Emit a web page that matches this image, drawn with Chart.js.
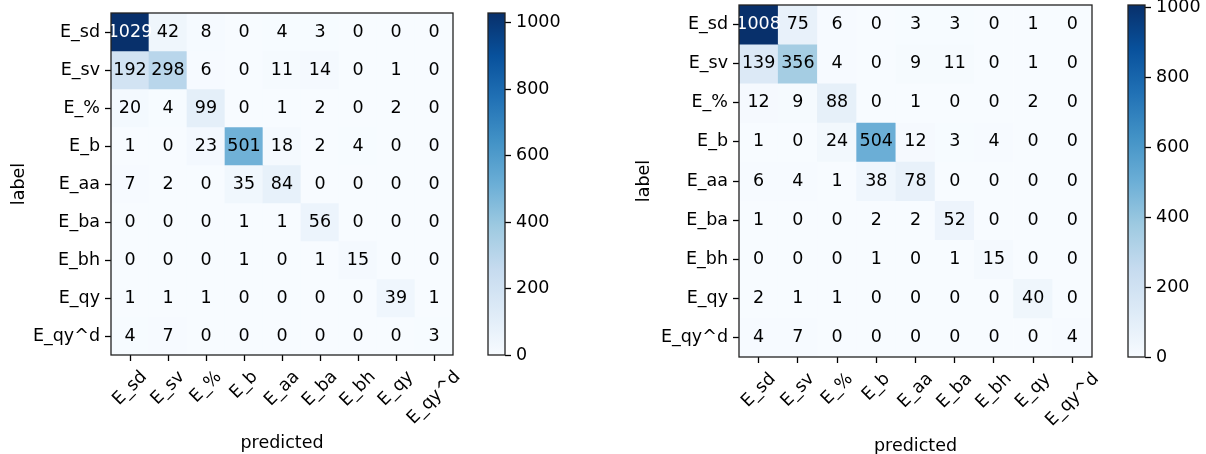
<!DOCTYPE html>
<html>
<head>
<meta charset="utf-8">
<script src="https://cdn.jsdelivr.net/npm/chart.js@4.4.1/dist/chart.umd.min.js"></script>
<style>
  html, body { margin: 0; padding: 0; background: #ffffff; overflow: hidden; width: 1206px; height: 454px; }
  canvas { position: absolute; top: 0; }
</style>
</head>
<body>
<canvas id="hmLeft" width="480" height="454" style="left:0px"></canvas>
<canvas id="cbLeft" width="80" height="454" style="left:480px"></canvas>
<canvas id="hmRight" width="490" height="460" style="left:620px"></canvas>
<canvas id="cbRight" width="96" height="454" style="left:1110px"></canvas>
<script>
// ---------- data ----------
const classLabels = ['E_sd', 'E_sv', 'E_%', 'E_b', 'E_aa', 'E_ba', 'E_bh', 'E_qy', 'E_qy^d'];

const leftCounts = [
  [1029, 42, 8, 0, 4, 3, 0, 0, 0],
  [192, 298, 6, 0, 11, 14, 0, 1, 0],
  [20, 4, 99, 0, 1, 2, 0, 2, 0],
  [1, 0, 23, 501, 18, 2, 4, 0, 0],
  [7, 2, 0, 35, 84, 0, 0, 0, 0],
  [0, 0, 0, 1, 1, 56, 0, 0, 0],
  [0, 0, 0, 1, 0, 1, 15, 0, 0],
  [1, 1, 1, 0, 0, 0, 0, 39, 1],
  [4, 7, 0, 0, 0, 0, 0, 0, 3]
];

const rightCounts = [
  [1008, 75, 6, 0, 3, 3, 0, 1, 0],
  [139, 356, 4, 0, 9, 11, 0, 1, 0],
  [12, 9, 88, 0, 1, 0, 0, 2, 0],
  [1, 0, 24, 504, 12, 3, 4, 0, 0],
  [6, 4, 1, 38, 78, 0, 0, 0, 0],
  [1, 0, 0, 2, 2, 52, 0, 0, 0],
  [0, 0, 0, 1, 0, 1, 15, 0, 0],
  [2, 1, 1, 0, 0, 0, 0, 40, 0],
  [4, 7, 0, 0, 0, 0, 0, 0, 4]
];

const colorbarTicks = [0, 200, 400, 600, 800, 1000];
const xAxisTitle = 'predicted';
const yAxisTitle = 'label';

// ---------- style ----------
const FS = 17.5;
const FONT = { family: 'DejaVu Sans', size: FS, lineHeight: 1.2 };
const TEXT = '#000000';
const FRAME = '#222222';
const TICK_LEN = 6;
const TICK_W = 1.3;

Chart.defaults.font.family = 'DejaVu Sans';
Chart.defaults.font.size = FS;
Chart.defaults.color = TEXT;

const BLUES = ['#f7fbff', '#deebf7', '#c6dbef', '#9ecae1', '#6baed6', '#4292c6', '#2171b5', '#08519c', '#08306b'];
function hexToRgb(h) { return [parseInt(h.slice(1, 3), 16), parseInt(h.slice(3, 5), 16), parseInt(h.slice(5, 7), 16)]; }
const BLUES_RGB = BLUES.map(hexToRgb);
function blues(t) {
  t = Math.max(0, Math.min(1, t));
  const p = t * (BLUES_RGB.length - 1);
  const i = Math.min(Math.floor(p), BLUES_RGB.length - 2);
  const f = p - i;
  const a = BLUES_RGB[i], b = BLUES_RGB[i + 1];
  const c = a.map((v, k) => Math.round(v + (b[k] - v) * f));
  return `rgb(${c[0]},${c[1]},${c[2]})`;
}

const framePlugin = {
  id: 'frame',
  afterDraw(chart) {
    const { ctx, chartArea: a } = chart;
    ctx.save();
    ctx.strokeStyle = FRAME;
    ctx.lineWidth = TICK_W;
    ctx.strokeRect(a.left, a.top, a.right - a.left, a.bottom - a.top);
    ctx.restore();
  }
};

function heatmap(id, counts, g) {
  const max = Math.max(...counts.flat());
  const datasets = counts.map((row, r) => ({
    data: row.map(() => [r - 0.5, r + 0.5]),
    backgroundColor: row.map(v => blues(v / max)),
    barPercentage: 1,
    categoryPercentage: 1,
    grouped: false,
    borderWidth: 0,
    borderSkipped: false
  }));

  const cellText = {
    id: 'cellText',
    afterDatasetsDraw(chart) {
      const { ctx, scales: { x, y } } = chart;
      ctx.save();
      ctx.font = `${FS}px "DejaVu Sans"`;
      ctx.textAlign = 'center';
      ctx.textBaseline = 'middle';
      counts.forEach((row, r) => {
        row.forEach((v, c) => {
          ctx.fillStyle = v > max / 2 ? '#ffffff' : TEXT;
          ctx.fillText(String(v), x.getPixelForValue(c), y.getPixelForValue(r));
        });
      });
      ctx.restore();
    }
  };

  const xLabels = {
    id: 'xLabels',
    afterDraw(chart) {
      const { ctx, scales: { x }, chartArea } = chart;
      ctx.save();
      ctx.font = `${FS}px "DejaVu Sans"`;
      ctx.fillStyle = TEXT;
      ctx.textAlign = 'center';
      ctx.textBaseline = 'middle';
      x.ticks.forEach((t, i) => {
        const lab = x.getLabelForValue(t.value);
        const px = x.getPixelForTick(i);
        const L = ctx.measureText(lab).width;
        const cy = chartArea.bottom + TICK_LEN + g.xLabelPad + (L + 1.16 * FS) / (2 * Math.SQRT2);
        ctx.save();
        ctx.translate(px, cy);
        ctx.rotate(-Math.PI / 4);
        ctx.fillText(lab, 0, 0);
        ctx.restore();
      });
      ctx.restore();
    }
  };

  return new Chart(document.getElementById(id), {
    type: 'bar',
    data: { labels: classLabels, datasets },
    options: {
      responsive: false,
      maintainAspectRatio: false,
      animation: false,
      events: [],
      layout: { padding: { left: 0, top: g.top, right: g.right, bottom: 0 } },
      plugins: { legend: { display: false }, tooltip: { enabled: false }, title: { display: false } },
      scales: {
        x: {
          type: 'category',
          offset: true,
          grid: { display: true, offset: false, drawOnChartArea: false, drawTicks: true, tickLength: TICK_LEN, tickColor: TEXT, tickWidth: TICK_W },
          border: { display: false },
          ticks: { display: false, autoSkip: false },
          title: { display: true, text: xAxisTitle, font: FONT, color: TEXT, padding: { top: 0, bottom: g.xTitlePad } },
          afterFit(s) { s.height = g.xAxisH; s.paddingLeft = 0; s.paddingRight = 0; }
        },
        y: {
          type: 'linear',
          reverse: true,
          min: -0.5,
          max: 8.5,
          afterBuildTicks(s) { s.ticks = classLabels.map((_, i) => ({ value: i })); },
          ticks: { callback: v => classLabels[v], font: FONT, color: TEXT, padding: 5, autoSkip: false },
          grid: { display: true, drawOnChartArea: false, drawTicks: true, tickLength: TICK_LEN, tickColor: TEXT, tickWidth: TICK_W },
          border: { display: false },
          title: { display: true, text: yAxisTitle, font: FONT, color: TEXT, padding: { top: g.yTitlePad, bottom: 0 } },
          afterFit(s) { s.width = g.yAxisW; s.paddingTop = 0; s.paddingBottom = 0; }
        }
      }
    },
    plugins: [cellText, framePlugin, xLabels]
  });
}

function colorbar(id, counts, g) {
  const max = Math.max(...counts.flat());
  return new Chart(document.getElementById(id), {
    type: 'bar',
    data: {
      labels: [''],
      datasets: [{
        data: [[0, max]],
        backgroundColor(c) {
          const ch = c.chart;
          const a = ch.chartArea;
          if (!a) return blues(0.5);
          const grad = ch.ctx.createLinearGradient(0, a.bottom, 0, a.top);
          BLUES.forEach((col, i) => grad.addColorStop(i / (BLUES.length - 1), col));
          return grad;
        },
        barPercentage: 1,
        categoryPercentage: 1,
        borderWidth: 0,
        borderSkipped: false
      }]
    },
    options: {
      responsive: false,
      maintainAspectRatio: false,
      animation: false,
      events: [],
      layout: { padding: { left: g.left, top: g.top, right: 0, bottom: g.bottom } },
      plugins: { legend: { display: false }, tooltip: { enabled: false } },
      scales: {
        x: { display: false, offset: true },
        y: {
          type: 'linear',
          position: 'right',
          min: 0,
          max: max,
          afterBuildTicks(s) { s.ticks = colorbarTicks.map(v => ({ value: v })); },
          ticks: { font: FONT, color: TEXT, padding: 5, autoSkip: false, callback: v => String(v) },
          grid: { display: true, drawOnChartArea: false, drawTicks: true, tickLength: TICK_LEN, tickColor: TEXT, tickWidth: TICK_W },
          border: { display: false },
          afterFit(s) { s.width = g.axisW; s.paddingTop = 0; s.paddingBottom = 0; }
        }
      }
    },
    plugins: [framePlugin]
  });
}

heatmap('hmLeft', leftCounts, { top: 13, right: 27, xAxisH: 99, yAxisW: 111, xTitlePad: 0.5, yTitlePad: 9, xLabelPad: 6 });
heatmap('hmRight', rightCounts, { top: 5, right: 18, xAxisH: 103, yAxisW: 119, xTitlePad: 2.7, yTitlePad: 14.3, xLabelPad: 6 });
colorbar('cbLeft', leftCounts, { left: 8, top: 13, bottom: 99, axisW: 55 });
colorbar('cbRight', rightCounts, { left: 18, top: 5, bottom: 97, axisW: 61 });
</script>
</body>
</html>
